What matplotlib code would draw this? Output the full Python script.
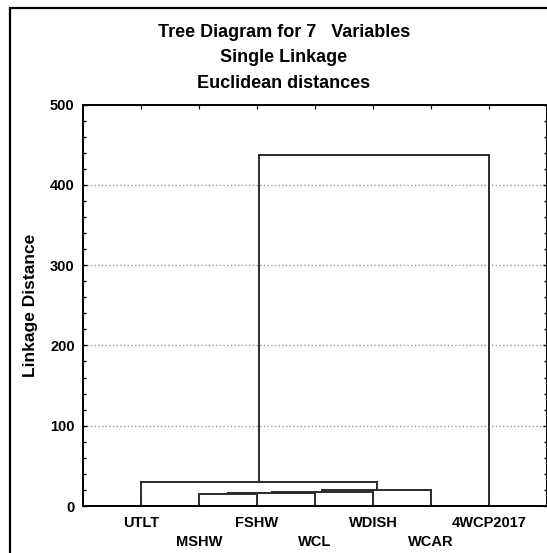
import matplotlib
matplotlib.use("Agg")
import matplotlib.pyplot as plt
from matplotlib.patches import Rectangle

plt.rcParams['font.family'] = ['Liberation Sans', 'DejaVu Sans']
plt.rcParams['font.weight'] = 'bold'

# leaves in the order they are drawn
labels = ["UTLT", "MSHW", "FSHW", "WCL", "WDISH", "WCAR", "4WCP2017"]
# single linkage merges: (left cluster, right cluster, linkage distance)
merges = [
    ("MSHW", "FSHW", 15.5),
    ("c1", "WCL", 16.0),
    ("c2", "WDISH", 17.5),
    ("c3", "WCAR", 20.5),
    ("UTLT", "c4", 29.5),
    ("c5", "4WCP2017", 437.0),
]

fig = plt.figure(figsize=(5.47, 5.53), dpi=100)
ax = fig.add_axes([83/547, 1-506/553, 1-83/547, (506-104.5)/553])

# position / height of each cluster
pos = {name: i + 1 for i, name in enumerate(labels)}
hgt = {name: 0.0 for name in labels}
lc = "#2b2b2b"
for k, (a, b, h) in enumerate(merges):
    xa, xb = pos[a], pos[b]
    ax.plot([xa, xa], [hgt[a], h], color=lc, lw=1.4)
    ax.plot([xb, xb], [hgt[b], h], color=lc, lw=1.4)
    ax.plot([xa, xb], [h, h], color=lc, lw=1.4)
    new = "c%d" % (k + 1)
    pos[new] = (xa + xb) / 2
    hgt[new] = h

ax.set_xlim(0, 8)
ax.set_ylim(0, 500)
ax.set_xticks(range(1, len(labels) + 1))
ax.set_xticklabels([l if i % 2 == 0 else "\n" + l for i, l in enumerate(labels)],
                   fontsize=10.5, fontweight='bold', linespacing=1.5)
ax.set_yticks([0, 100, 200, 300, 400, 500])
ax.set_yticks(range(0, 501, 20), minor=True)
ax.tick_params(axis='y', labelsize=10.5, direction='in', length=3, width=1,
               right=True, which='both', pad=6)
ax.tick_params(axis='y', which='minor', length=2)
ax.tick_params(axis='x', direction='in', length=3, top=True, pad=7)
for lab in ax.get_yticklabels():
    lab.set_fontweight('bold')
ax.grid(axis='y', color='#9a9a9a', linestyle=':', linewidth=1)
ax.set_axisbelow(True)
for s in ax.spines.values():
    s.set_linewidth(1.4)

fig.text(31/547, 1-305/553, "Linkage Distance", rotation=90, ha='center', va='center',
         fontsize=12.5, fontweight='bold')

fig.text(284/547, 1-32.5/553, "Tree Diagram for 7   Variables", ha='center', va='center',
         fontsize=13, fontweight='bold')
fig.text(284/547, 1-58/553, "Single Linkage", ha='center', va='center',
         fontsize=13, fontweight='bold')
fig.text(284/547, 1-83.5/553, "Euclidean distances", ha='center', va='center',
         fontsize=13, fontweight='bold')

# outer frame of the graph window
fig.patches.append(Rectangle((10/547, -0.1), 1.2, 1 - 8.5/553 + 0.1,
                             transform=fig.transFigure, fill=False,
                             edgecolor='black', linewidth=1.6))

fig.savefig("out.png", dpi=100)
